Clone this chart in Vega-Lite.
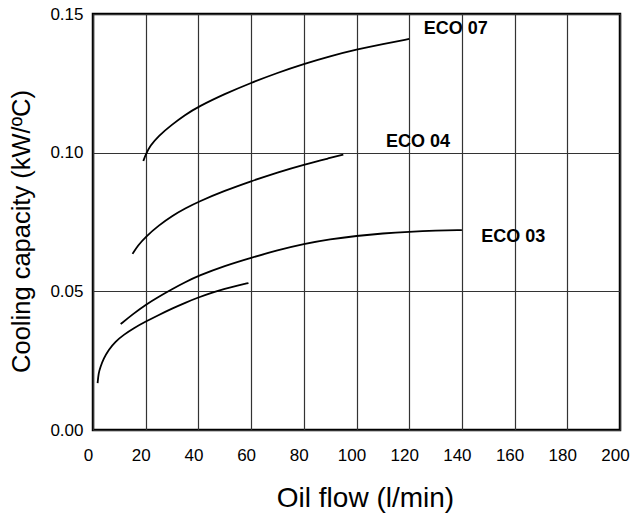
{
  "$schema": "https://vega.github.io/schema/vega-lite/v6.json",
  "autosize": {"type": "none"},
  "width": 527,
  "height": 416,
  "padding": {"left": 93, "top": 14, "right": 12, "bottom": 83},
  "background": "white",
  "config": {
    "font": "Liberation Sans",
    "view": {"stroke": "black", "strokeWidth": 2.5},
    "axis": {
      "grid": true,
      "gridColor": "#333333",
      "gridWidth": 1.2,
      "gridOpacity": 1,
      "domain": false,
      "ticks": false,
      "labelFlush": false,
      "labelOverlap": false,
      "labelColor": "black",
      "titleColor": "black",
      "labelFont": "Liberation Sans",
      "titleFont": "Liberation Sans",
      "titleFontWeight": "normal",
      "labelFontSize": 17,
      "titleFontSize": 28
    }
  },
  "datasets": {
    "curves": [
      {"series": "ECO 07", "flow": 19.1, "cap": 0.0970},
      {"series": "ECO 07", "flow": 20, "cap": 0.0993},
      {"series": "ECO 07", "flow": 21.7, "cap": 0.1025},
      {"series": "ECO 07", "flow": 24.8, "cap": 0.1060},
      {"series": "ECO 07", "flow": 29.8, "cap": 0.1100},
      {"series": "ECO 07", "flow": 34.9, "cap": 0.1136},
      {"series": "ECO 07", "flow": 40, "cap": 0.1166},
      {"series": "ECO 07", "flow": 50, "cap": 0.1212},
      {"series": "ECO 07", "flow": 60, "cap": 0.1252},
      {"series": "ECO 07", "flow": 70, "cap": 0.1288},
      {"series": "ECO 07", "flow": 80, "cap": 0.1320},
      {"series": "ECO 07", "flow": 90, "cap": 0.1348},
      {"series": "ECO 07", "flow": 100, "cap": 0.1372},
      {"series": "ECO 07", "flow": 110, "cap": 0.1392},
      {"series": "ECO 07", "flow": 120, "cap": 0.1410},
      {"series": "ECO 04", "flow": 15, "cap": 0.0635},
      {"series": "ECO 04", "flow": 17, "cap": 0.0665},
      {"series": "ECO 04", "flow": 20, "cap": 0.0697},
      {"series": "ECO 04", "flow": 25, "cap": 0.0738},
      {"series": "ECO 04", "flow": 30, "cap": 0.0772},
      {"series": "ECO 04", "flow": 35, "cap": 0.0799},
      {"series": "ECO 04", "flow": 40, "cap": 0.0823},
      {"series": "ECO 04", "flow": 50, "cap": 0.0863},
      {"series": "ECO 04", "flow": 60, "cap": 0.0897},
      {"series": "ECO 04", "flow": 70, "cap": 0.0929},
      {"series": "ECO 04", "flow": 80, "cap": 0.0957},
      {"series": "ECO 04", "flow": 90, "cap": 0.0981},
      {"series": "ECO 04", "flow": 95, "cap": 0.0993},
      {"series": "ECO 03", "flow": 10.5, "cap": 0.0382},
      {"series": "ECO 03", "flow": 15, "cap": 0.0417},
      {"series": "ECO 03", "flow": 20, "cap": 0.0452},
      {"series": "ECO 03", "flow": 25, "cap": 0.0481},
      {"series": "ECO 03", "flow": 30, "cap": 0.0508},
      {"series": "ECO 03", "flow": 35, "cap": 0.0533},
      {"series": "ECO 03", "flow": 40, "cap": 0.0556},
      {"series": "ECO 03", "flow": 50, "cap": 0.0592},
      {"series": "ECO 03", "flow": 60, "cap": 0.0621},
      {"series": "ECO 03", "flow": 70, "cap": 0.0648},
      {"series": "ECO 03", "flow": 80, "cap": 0.0671},
      {"series": "ECO 03", "flow": 90, "cap": 0.0688},
      {"series": "ECO 03", "flow": 100, "cap": 0.0700},
      {"series": "ECO 03", "flow": 110, "cap": 0.0709},
      {"series": "ECO 03", "flow": 120, "cap": 0.0715},
      {"series": "ECO 03", "flow": 130, "cap": 0.0719},
      {"series": "ECO 03", "flow": 140, "cap": 0.0721},
      {"series": "ECO 02", "flow": 1.75, "cap": 0.0169},
      {"series": "ECO 02", "flow": 2.1, "cap": 0.0205},
      {"series": "ECO 02", "flow": 2.8, "cap": 0.0227},
      {"series": "ECO 02", "flow": 4.0, "cap": 0.0257},
      {"series": "ECO 02", "flow": 5.9, "cap": 0.0289},
      {"series": "ECO 02", "flow": 8.5, "cap": 0.0319},
      {"series": "ECO 02", "flow": 11.6, "cap": 0.0343},
      {"series": "ECO 02", "flow": 15.4, "cap": 0.0367},
      {"series": "ECO 02", "flow": 20, "cap": 0.0391},
      {"series": "ECO 02", "flow": 25, "cap": 0.0415},
      {"series": "ECO 02", "flow": 30, "cap": 0.0438},
      {"series": "ECO 02", "flow": 35, "cap": 0.0459},
      {"series": "ECO 02", "flow": 40, "cap": 0.0478},
      {"series": "ECO 02", "flow": 45, "cap": 0.0495},
      {"series": "ECO 02", "flow": 50, "cap": 0.0509},
      {"series": "ECO 02", "flow": 55, "cap": 0.0521},
      {"series": "ECO 02", "flow": 59, "cap": 0.0530}
    ],
    "labels": [
      {"text": "ECO 07", "flow": 137.7, "cap": 0.1447},
      {"text": "ECO 04", "flow": 123.3, "cap": 0.1037},
      {"text": "ECO 03", "flow": 159.5, "cap": 0.0696}
    ]
  },
  "layer": [
    {
      "data": {"name": "curves"},
      "mark": {"type": "line", "color": "black", "strokeWidth": 1.8, "interpolate": "basis"},
      "encoding": {
        "x": {
          "field": "flow",
          "type": "quantitative",
          "scale": {"domain": [0, 200], "nice": false},
          "axis": {
            "values": [0, 20, 40, 60, 80, 100, 120, 140, 160, 180, 200],
            "title": "Oil flow (l/min)",
            "labelPadding": 17,
            "labelOffset": -5,
            "titleX": 272,
            "titleY": 68,
            "titleBaseline": "middle"
          }
        },
        "y": {
          "field": "cap",
          "type": "quantitative",
          "scale": {"domain": [0, 0.15], "nice": false},
          "axis": {
            "values": [0, 0.05, 0.1, 0.15],
            "format": ".2f",
            "title": "Cooling capacity (kW/ºC)",
            "labelPadding": 10,
            "titleX": -72,
            "titleY": 217,
            "titleBaseline": "middle",
            "titleFontSize": 25.5
          }
        },
        "detail": {"field": "series"}
      }
    },
    {
      "data": {"name": "labels"},
      "mark": {"type": "text", "fontWeight": "bold", "fontSize": 18, "color": "black", "font": "Liberation Sans"},
      "encoding": {
        "x": {"field": "flow", "type": "quantitative"},
        "y": {"field": "cap", "type": "quantitative"},
        "text": {"field": "text"}
      }
    }
  ]
}
